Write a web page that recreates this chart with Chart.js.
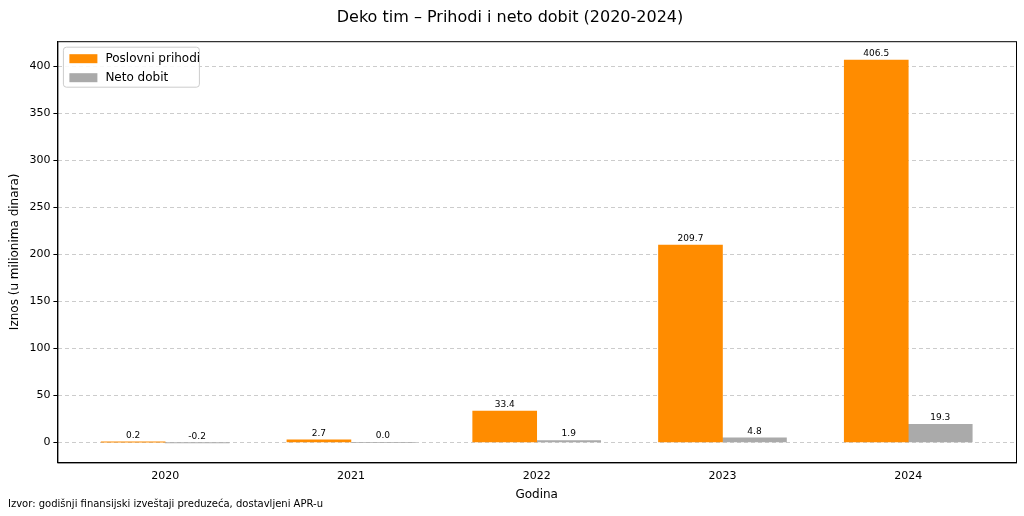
<!DOCTYPE html>
<html><head><meta charset="utf-8">
<script src="https://cdn.jsdelivr.net/npm/chart.js@4"></script>
<style>html,body{margin:0;padding:0;background:#fff}#w{width:1024px;height:516px}</style>
</head><body><div id="w"><canvas id="c"></canvas></div>
<script>
const years=[2020,2021,2022,2023,2024];
const prihodi=[0.2,2.7,33.4,209.7,406.5];
const dobit=[-0.2,0.0,1.9,4.8,19.3];
const seriesNames=['Poslovni prihodi','Neto dobit'];
const F='DejaVu Sans';
const plug={id:'extra',afterDatasetsDraw(ch){
 const c=ch.ctx;c.save();c.font='9px '+F;c.fillStyle='#000';c.textAlign='center';c.textBaseline='bottom';
 ch.data.datasets.forEach((d,i)=>{ch.getDatasetMeta(i).data.forEach((b,j)=>{
  const v=d.data[j].y;const y=Math.min(b.y,b.base);c.fillText(v.toFixed(1),b.x,(v<0?b.base:y)-2);});});
 const a=ch.chartArea;c.strokeStyle='#000';c.lineWidth=1;c.strokeRect(a.left+0.5,a.top+0.5,a.right-a.left,a.bottom-a.top);
 // legend
 const lx=a.left+6,ly=a.top+6;c.fillStyle='rgba(255,255,255,0.85)';c.strokeStyle='#ccc';
 c.beginPath();c.roundRect(lx,ly,136,40,3);c.fill();c.stroke();
 c.font='12px '+F;c.textAlign='left';c.textBaseline='middle';
 [['#ff8c00',seriesNames[0]],['#aaaaaa',seriesNames[1]]].forEach((e,k)=>{
  c.fillStyle=e[0];c.fillRect(lx+6,ly+7+k*19,28,9);c.fillStyle='#000';c.fillText(e[1],lx+42,ly+12+k*19);});
 c.font='10px '+F;c.textBaseline='alphabetic';c.fillText('Izvor: godišnji finansijski izveštaji preduzeća, dostavljeni APR-u',8,507);
 c.restore();}};
new Chart(document.getElementById('c'),{type:'bar',
 data:{datasets:[
  {label:seriesNames[0],data:years.map((x,i)=>({x,y:prihodi[i]})),backgroundColor:'#ff8c00'},
  {label:seriesNames[1],data:years.map((x,i)=>({x,y:dobit[i]})),backgroundColor:'#aaaaaa'}]},
 options:{animation:false,responsive:true,maintainAspectRatio:false,
  layout:{padding:{left:4,right:8,top:6,bottom:10}},
  datasets:{bar:{barThickness:64,categoryPercentage:1,barPercentage:1}},
  plugins:{legend:{display:false},tooltip:{enabled:false},
   title:{display:true,text:'Deko tim – Prihodi i neto dobit (2020-2024)',font:{family:F,size:16,weight:'normal'},color:'#000',padding:{top:2,bottom:14}}},
  scales:{
   x:{type:'linear',min:2019.42,max:2024.58,offset:false,
    ticks:{stepSize:1,callback:v=>Number.isInteger(v)?String(v):'',color:'#000',font:{family:F,size:11}},
    afterBuildTicks:s=>{s.ticks=years.map(v=>({value:v}));},
    grid:{display:false,drawTicks:true,tickLength:4},border:{color:'#000'},
    title:{display:true,text:'Godina',color:'#000',font:{family:F,size:12},padding:{top:2}}},
   y:{min:-21.3,max:426.6,
    afterBuildTicks:s=>{s.ticks=[0,50,100,150,200,250,300,350,400].map(v=>({value:v}));},
    ticks:{color:'#000',font:{family:F,size:11}},
    grid:{color:'#cccccc',tickLength:4,tickColor:'#000'},border:{color:'#000',dash:[4,3]},
    title:{display:true,text:'Iznos (u milionima dinara)',color:'#000',font:{family:F,size:12}}}}},
 plugins:[plug]});
</script></body></html>
